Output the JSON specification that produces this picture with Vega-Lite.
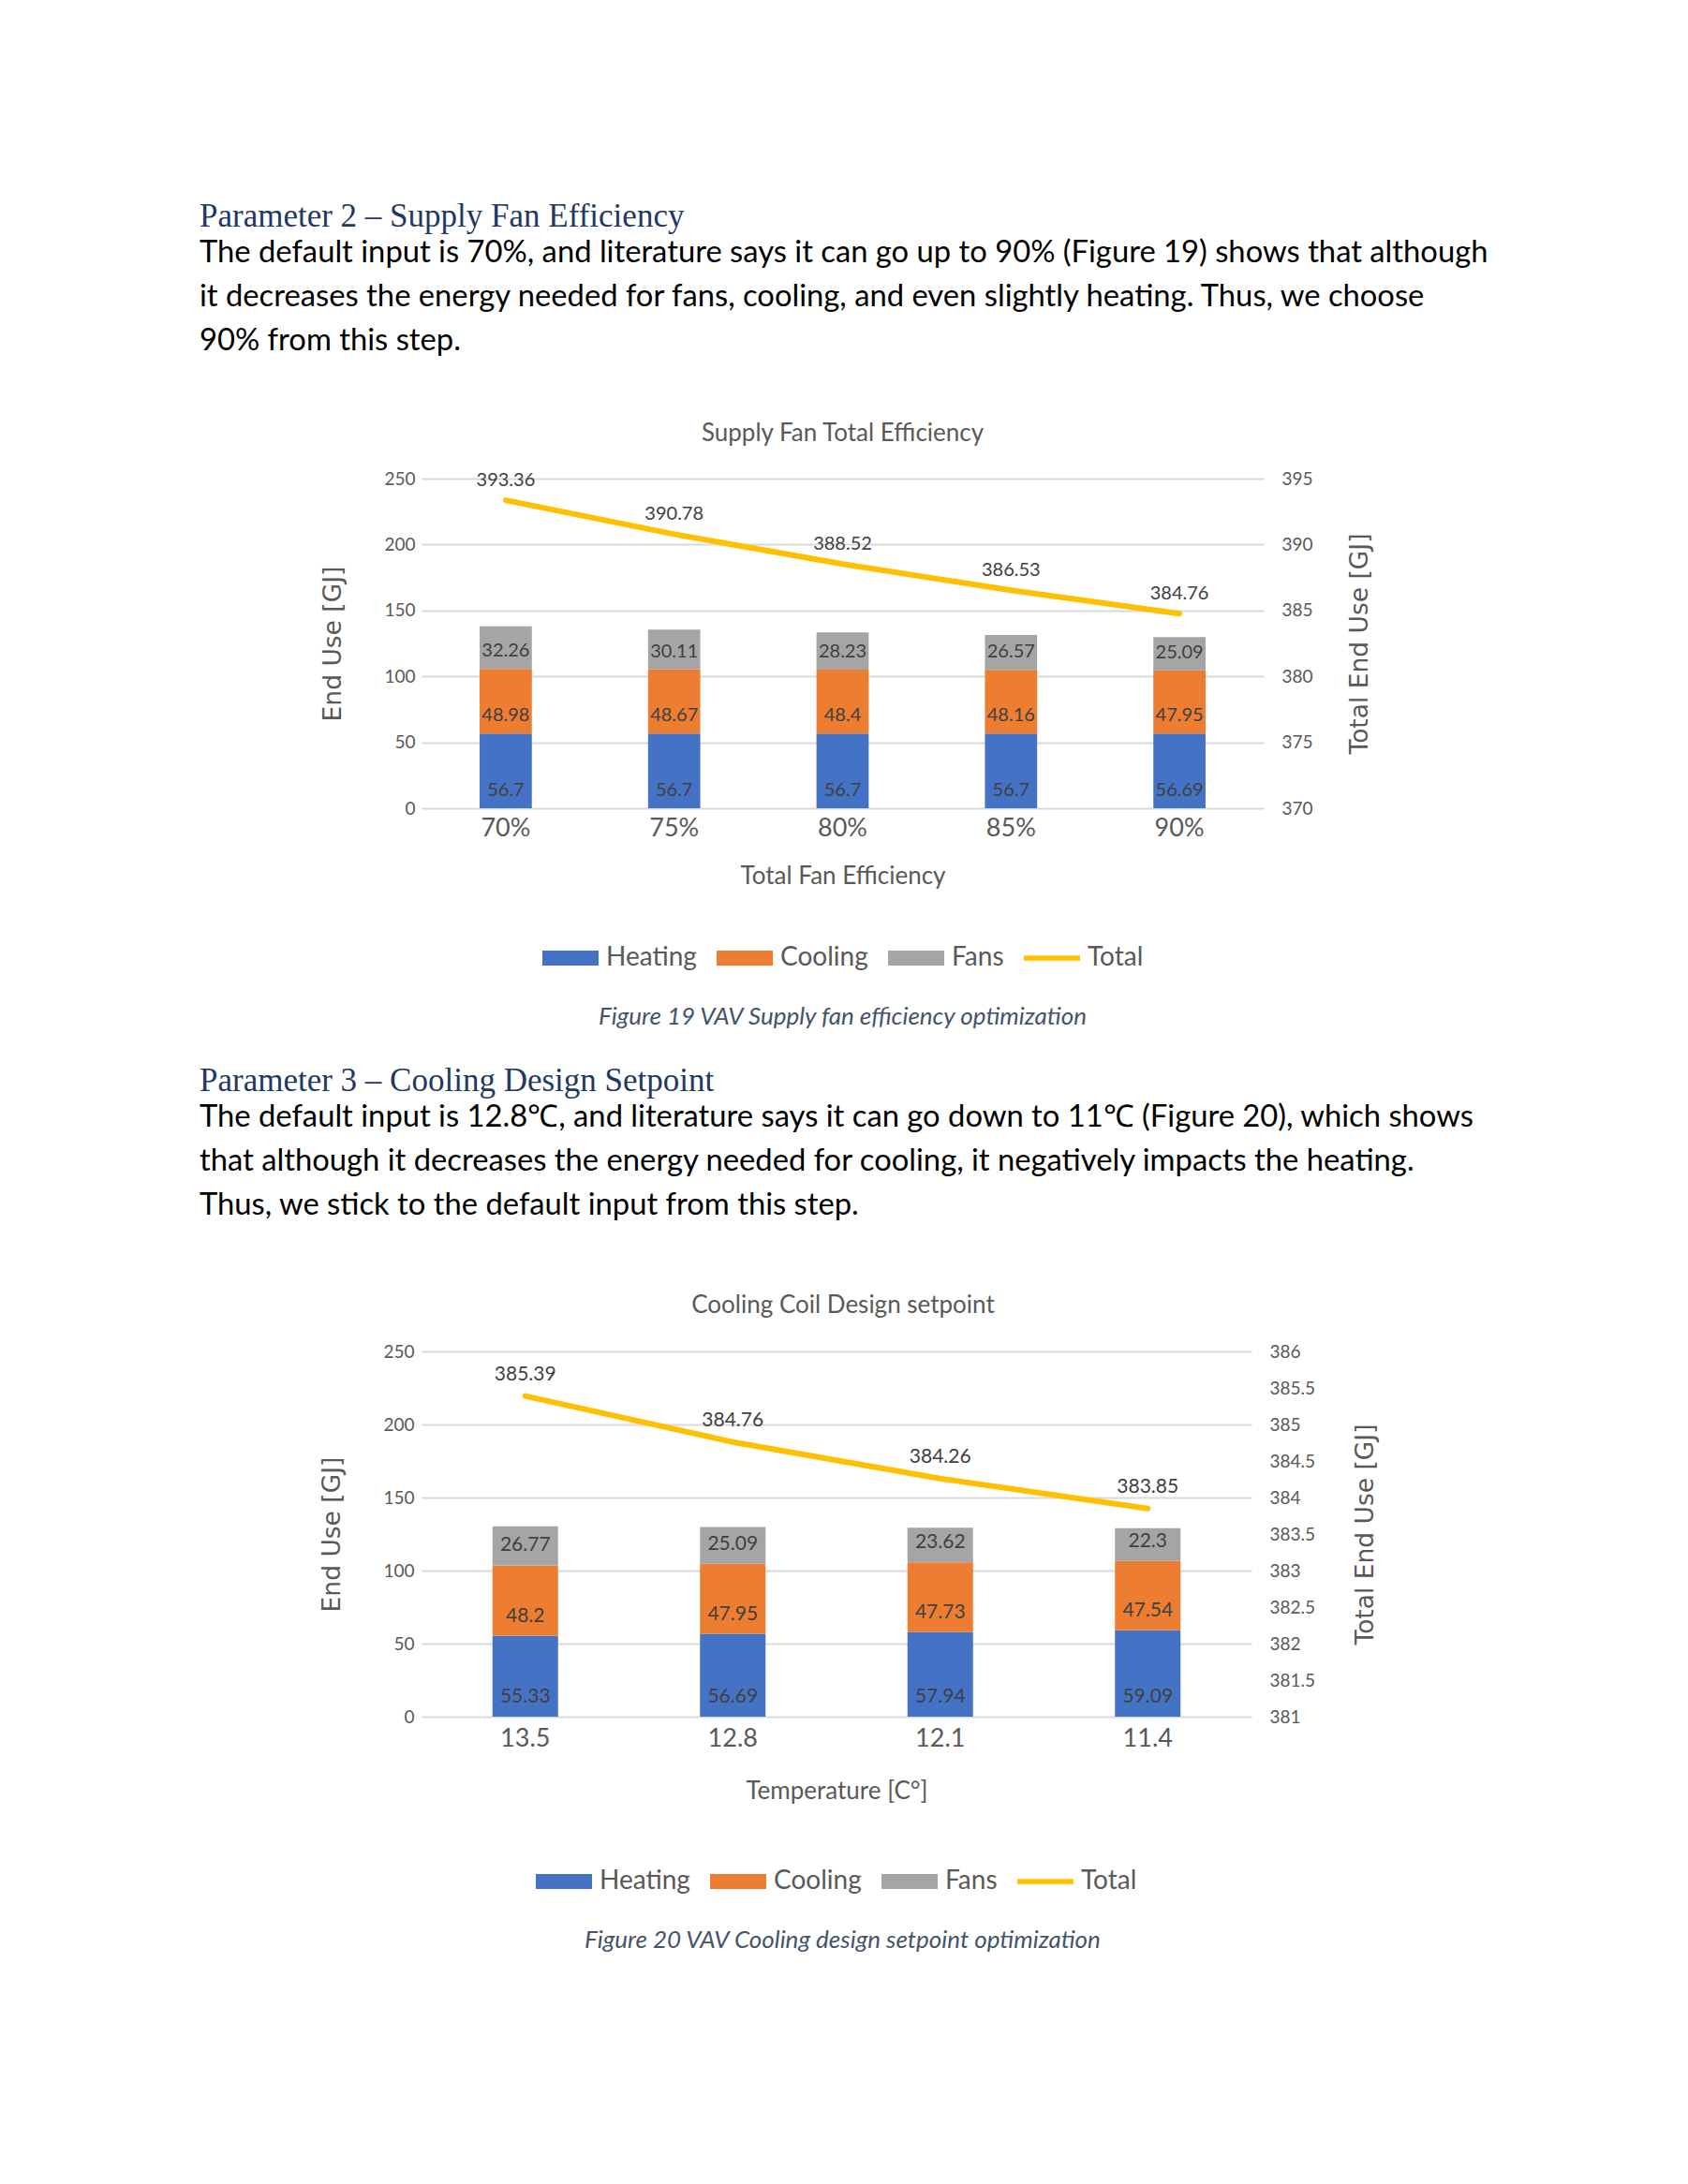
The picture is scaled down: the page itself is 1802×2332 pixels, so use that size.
{
  "$schema": "https://vega.github.io/schema/vega-lite/v6.json",
  "background": "white",
  "padding": {"left": 213, "top": 214, "right": 0, "bottom": 0},
  "spacing": 36,
  "resolve": {"scale": {"color": "independent"}, "legend": {"color": "independent"}},
  "config": {
    "view": {"stroke": null},
    "font": "Lato",
    "legend": {"layout": {"bottom": {"anchor": "middle"}}}
  },
  "vconcat": [
    {
      "width": 899, "height": 23,
      "data": {"values": []},
      "mark": "text",
      "title": {
        "text": "Parameter 2 – Supply Fan Efficiency",
        "anchor": "start", "frame": "group", "dx": -237, "offset": 10,
        "font": "Liberation Serif", "fontSize": 35, "fontWeight": "normal", "color": "#1F3864",
        "subtitle": [
          "The default input is 70%, and literature says it can go up to 90% (Figure 19) shows that although",
          "it decreases the energy needed for fans, cooling, and even slightly heating. Thus, we choose",
          "90% from this step."
        ],
        "subtitleFont": "Lato", "subtitleFontSize": 32.75, "subtitleColor": "#000000",
        "subtitleLineHeight": 47, "subtitlePadding": 5
      }
    },
    {
      "width": 899, "height": 352,
      "title": {"text": "Supply Fan Total Efficiency", "font": "Lato", "fontSize": 26, "fontWeight": "normal", "color": "#595959", "anchor": "middle", "offset": 26},
      "data": {"values": [
        {"eff": "70%", "Heating": 56.7, "Cooling": 48.98, "Fans": 32.26, "Total": 393.36},
        {"eff": "75%", "Heating": 56.7, "Cooling": 48.67, "Fans": 30.11, "Total": 390.78},
        {"eff": "80%", "Heating": 56.7, "Cooling": 48.4, "Fans": 28.23, "Total": 388.52},
        {"eff": "85%", "Heating": 56.7, "Cooling": 48.16, "Fans": 26.57, "Total": 386.53},
        {"eff": "90%", "Heating": 56.69, "Cooling": 47.95, "Fans": 25.09, "Total": 384.76}
      ]},
      "encoding": {
        "x": {"field": "eff", "type": "nominal", "sort": null,
          "scale": {"paddingInner": 0.69, "paddingOuter": 0.345},
          "axis": {"title": "Total Fan Efficiency", "labelAngle": 0, "labelFont": "Lato", "labelFontSize": 27, "labelColor": "#595959", "labelPadding": 8,
            "titleFont": "Lato", "titleFontSize": 26, "titleColor": "#595959", "titleFontWeight": "normal", "titlePadding": 25,
            "domain": false, "ticks": false, "grid": false}}
      },
      "layer": [
        {
          "transform": [
            {"fold": ["Heating", "Cooling", "Fans"], "as": ["series", "val"]},
            {"stack": "val", "groupby": ["eff"], "as": ["v0", "v1"]}
          ],
          "encoding": {
            "y": {"field": "v0", "type": "quantitative", "scale": {"domain": [0, 250], "nice": false},
              "axis": {"orient": "left", "title": "End Use [GJ]", "values": [0, 50, 100, 150, 200, 250], "grid": true, "gridColor": "#D9D9D9", "gridWidth": 2,
                "domain": false, "ticks": false, "labelFont": "Lato", "labelFontSize": 19, "labelColor": "#595959", "labelPadding": 7,
                "titleFont": "DejaVu Sans", "titleFontSize": 26.5, "titleFontWeight": "normal", "titleColor": "#595959", "titlePadding": 40}}
          },
          "layer": [
            {"mark": {"type": "bar"},
             "encoding": {
               "y2": {"field": "v1"},
               "color": {"field": "series", "type": "nominal",
                 "scale": {"domain": ["Heating", "Cooling", "Fans", "Total"], "range": ["#4472C4", "#ED7D31", "#A5A5A5", "#FFC000"]},
                 "legend": {"orient": "bottom", "direction": "horizontal", "title": null, "labelFont": "Lato", "labelFontSize": 28, "labelColor": "#595959",
                   "symbolType": "M-1,-0.27H1V0.27H-1Z", "symbolSize": 3600, "symbolStrokeWidth": 0, "symbolOpacity": 1, "columnPadding": 21, "labelOffset": 8, "offset": 45,
                   "encode": {"symbols": {"update": {"shape": {"signal": "datum.value === 'Total' ? 'M-1,-0.09H1V0.09H-1Z' : 'M-1,-0.27H1V0.27H-1Z'"}}}}}}
             }},
            {"mark": {"type": "text", "dy": -19, "fontSize": 20, "color": "#404040", "font": "Lato"},
             "encoding": {"text": {"field": "val", "type": "nominal"}}}
          ]
        },
        {
          "encoding": {
            "y": {"field": "Total", "type": "quantitative", "scale": {"domain": [370, 395], "nice": false},
              "axis": {"orient": "right", "title": "Total End Use [GJ]", "values": [370, 375, 380, 385, 390, 395], "grid": false,
                "domain": false, "ticks": false, "labelFont": "Lato", "labelFontSize": 19, "labelColor": "#595959", "labelPadding": 19,
                "titleFont": "DejaVu Sans", "titleFontSize": 26.5, "titleFontWeight": "normal", "titleColor": "#595959", "titlePadding": 64, "titleAngle": 270}}
          },
          "layer": [
            {"mark": {"type": "line", "strokeWidth": 6, "strokeCap": "round"},
             "encoding": {"color": {"datum": "Total", "type": "nominal"}}},
            {"mark": {"type": "text", "dy": -21, "fontSize": 20, "color": "#404040", "font": "Lato"},
             "encoding": {"text": {"field": "Total", "type": "nominal"}}}
          ]
        }
      ],
      "resolve": {"scale": {"y": "independent"}}
    },
    {
      "width": 899, "height": 1,
      "data": {"values": []},
      "mark": "text",
      "title": {"text": "Figure 19 VAV Supply fan efficiency optimization", "anchor": "middle", "frame": "group", "offset": 1,
        "font": "Lato", "fontSize": 26, "fontStyle": "italic", "fontWeight": "normal", "color": "#44546A"}
    },
    {
      "width": 899, "height": 31,
      "data": {"values": []},
      "mark": "text",
      "title": {
        "text": "Parameter 3 – Cooling Design Setpoint",
        "anchor": "start", "frame": "group", "dx": -237, "offset": 10,
        "font": "Liberation Serif", "fontSize": 35, "fontWeight": "normal", "color": "#1F3864",
        "subtitle": [
          "The default input is 12.8℃, and literature says it can go down to 11℃ (Figure 20), which shows",
          "that although it decreases the energy needed for cooling, it negatively impacts the heating.",
          "Thus, we stick to the default input from this step."
        ],
        "subtitleFont": "Lato", "subtitleFontSize": 32.75, "subtitleColor": "#000000",
        "subtitleLineHeight": 47, "subtitlePadding": 5
      }
    },
    {
      "width": 886, "height": 390,
      "title": {"text": "Cooling Coil Design setpoint", "font": "Lato", "fontSize": 26, "fontWeight": "normal", "color": "#595959", "anchor": "middle", "offset": 27, "dx": 7},
      "data": {"values": [
        {"temp": "13.5", "Heating": 55.33, "Cooling": 48.2, "Fans": 26.77, "Total": 385.39},
        {"temp": "12.8", "Heating": 56.69, "Cooling": 47.95, "Fans": 25.09, "Total": 384.76},
        {"temp": "12.1", "Heating": 57.94, "Cooling": 47.73, "Fans": 23.62, "Total": 384.26},
        {"temp": "11.4", "Heating": 59.09, "Cooling": 47.54, "Fans": 22.3, "Total": 383.85}
      ]},
      "encoding": {
        "x": {"field": "temp", "type": "nominal", "sort": null,
          "scale": {"paddingInner": 0.684, "paddingOuter": 0.342},
          "axis": {"title": "Temperature [C°]", "labelAngle": 0, "labelFont": "Lato", "labelFontSize": 27, "labelColor": "#595959", "labelPadding": 10,
            "titleFont": "Lato", "titleFontSize": 26, "titleColor": "#595959", "titleFontWeight": "normal", "titlePadding": 30,
            "domain": false, "ticks": false, "grid": false}}
      },
      "layer": [
        {
          "transform": [
            {"fold": ["Heating", "Cooling", "Fans"], "as": ["series", "val"]},
            {"stack": "val", "groupby": ["temp"], "as": ["v0", "v1"]}
          ],
          "encoding": {
            "y": {"field": "v0", "type": "quantitative", "scale": {"domain": [0, 250], "nice": false},
              "axis": {"orient": "left", "title": "End Use [GJ]", "values": [0, 50, 100, 150, 200, 250], "grid": true, "gridColor": "#D9D9D9", "gridWidth": 2,
                "domain": false, "ticks": false, "labelFont": "Lato", "labelFontSize": 19, "labelColor": "#595959", "labelPadding": 8,
                "titleFont": "DejaVu Sans", "titleFontSize": 26.5, "titleFontWeight": "normal", "titleColor": "#595959", "titlePadding": 40}}
          },
          "layer": [
            {"mark": {"type": "bar"},
             "encoding": {
               "y2": {"field": "v1"},
               "color": {"field": "series", "type": "nominal",
                 "scale": {"domain": ["Heating", "Cooling", "Fans", "Total"], "range": ["#4472C4", "#ED7D31", "#A5A5A5", "#FFC000"]},
                 "legend": {"orient": "bottom", "direction": "horizontal", "title": null, "labelFont": "Lato", "labelFontSize": 28, "labelColor": "#595959",
                   "symbolType": "M-1,-0.27H1V0.27H-1Z", "symbolSize": 3600, "symbolStrokeWidth": 0, "symbolOpacity": 1, "columnPadding": 21, "labelOffset": 8, "offset": 54,
                   "encode": {"symbols": {"update": {"shape": {"signal": "datum.value === 'Total' ? 'M-1,-0.09H1V0.09H-1Z' : 'M-1,-0.27H1V0.27H-1Z'"}}}}}}
             }},
            {"mark": {"type": "text", "dy": -21, "fontSize": 21, "color": "#404040", "font": "Lato"},
             "encoding": {"text": {"field": "val", "type": "nominal"}}}
          ]
        },
        {
          "encoding": {
            "y": {"field": "Total", "type": "quantitative", "scale": {"domain": [381, 386], "nice": false},
              "axis": {"orient": "right", "title": "Total End Use [GJ]", "values": [381, 381.5, 382, 382.5, 383, 383.5, 384, 384.5, 385, 385.5, 386], "format": ".1~f", "grid": false,
                "domain": false, "ticks": false, "labelFont": "Lato", "labelFontSize": 19, "labelColor": "#595959", "labelPadding": 19,
                "titleFont": "DejaVu Sans", "titleFontSize": 26.5, "titleFontWeight": "normal", "titleColor": "#595959", "titlePadding": 68, "titleAngle": 270}}
          },
          "layer": [
            {"mark": {"type": "line", "strokeWidth": 6, "strokeCap": "round"},
             "encoding": {"color": {"datum": "Total", "type": "nominal"}}},
            {"mark": {"type": "text", "dy": -23, "fontSize": 21, "color": "#404040", "font": "Lato"},
             "encoding": {"text": {"field": "Total", "type": "nominal"}}}
          ]
        }
      ],
      "resolve": {"scale": {"y": "independent"}}
    },
    {
      "width": 899, "height": 1,
      "data": {"values": []},
      "mark": "text",
      "title": {"text": "Figure 20 VAV Cooling design setpoint optimization", "anchor": "middle", "frame": "group", "offset": 5,
        "font": "Lato", "fontSize": 26, "fontStyle": "italic", "fontWeight": "normal", "color": "#44546A"}
    }
  ]
}
